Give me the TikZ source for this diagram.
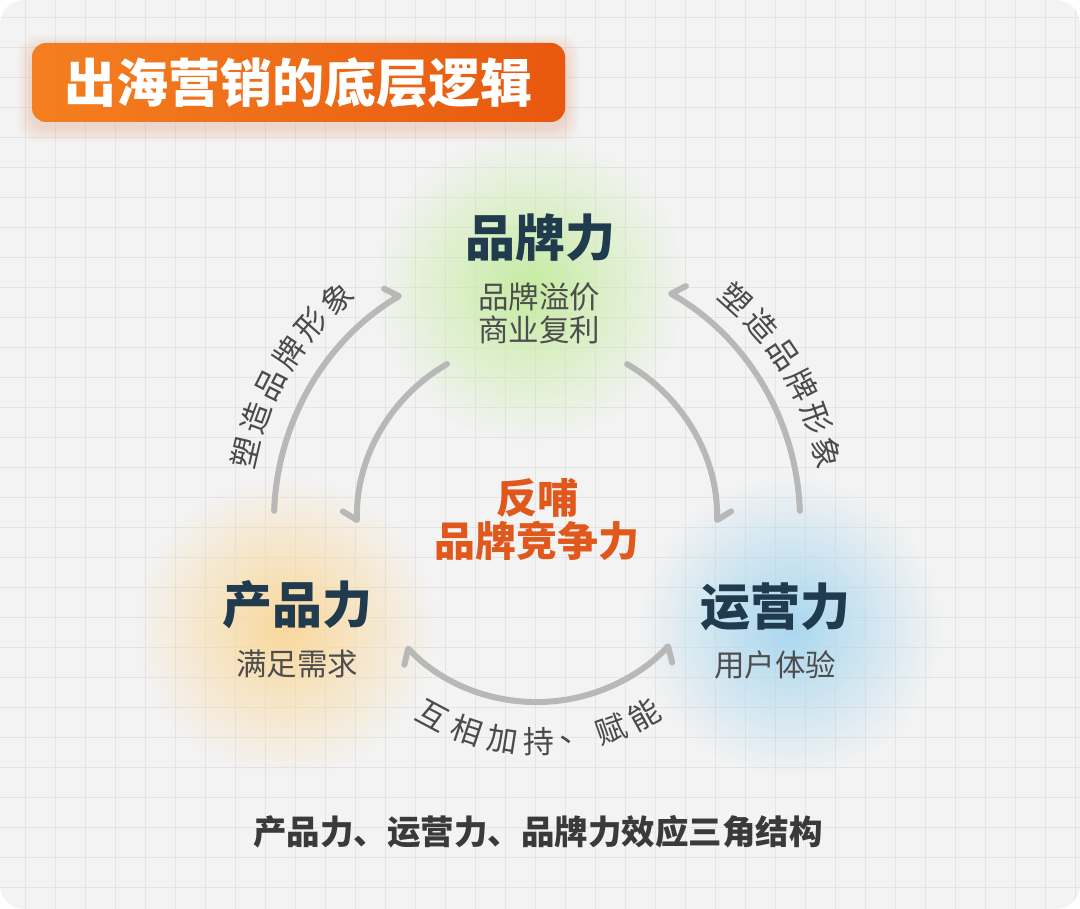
\documentclass[tikz,border=0pt]{standalone}
\usepackage{fontspec}
\setmainfont{Noto Sans CJK SC}
\usepackage{tikz}
\usetikzlibrary{arrows.meta}
\usetikzlibrary{fadings}
\tikzfading[name=glowfade,inner color=transparent!0,outer color=transparent!100]
\definecolor{bgcol}{HTML}{F3F3F3}
\definecolor{gridcol}{HTML}{E4E4E4}
\definecolor{navycol}{HTML}{1F3B4D}
\definecolor{subcol}{HTML}{4D4D4D}
\definecolor{corecol}{HTML}{E1581C}
\definecolor{capcol}{HTML}{3A3A3A}
\definecolor{arccol}{HTML}{B8B8B8}
\definecolor{labcol}{HTML}{4A4A4A}
\definecolor{glowgreen}{HTML}{C6ECA2}
\definecolor{gloworange}{HTML}{FAD89C}
\definecolor{glowblue}{HTML}{A9D7EF}
\definecolor{titleleft}{HTML}{F47F1F}
\definecolor{titleright}{HTML}{E8580F}
\tikzset{
	hb/.tip={Straight Barb[harpoon,length=9pt,width=28pt,round]},
	hbs/.tip={Straight Barb[harpoon,swap,length=9pt,width=28pt,round]},
	gridline/.style={draw=gridcol,line width=0.6pt},
	arcline/.style={draw=arccol,line width=6pt,line cap=round},
	titlebox/.style={minimum width=533pt,minimum height=79pt,rounded corners=14pt,left color=titleleft,right color=titleright,text=white,inner sep=0pt,font=\bfseries\fontsize{52}{56}\selectfont},
	power/.style={inner sep=0pt,text=navycol,font=\bfseries\fontsize{50}{56}\selectfont},
	sub/.style={inner sep=0pt,text=subcol,align=center,font=\fontsize{30.5}{33}\selectfont},
	core/.style={inner sep=0pt,text=corecol,align=center,font=\bfseries\fontsize{41}{43}\selectfont},
	arclabel/.style={inner sep=0pt,text=labcol,font=\fontsize{31}{33}\selectfont},
	caption/.style={inner sep=0pt,text=capcol,font=\bfseries\fontsize{33.5}{36}\selectfont}
}

\begin{document}
\begin{tikzpicture}[x=1pt,y=1pt]
			\useasboundingbox (0,0) rectangle (1080,909);
			\fill[white] (0,0) rectangle (1080,909);
			\fill[bgcol,rounded corners=24pt] (0,0) rectangle (1080,909);
%-----Grid paper-----
			\begin{scope}
				\clip[rounded corners=24pt] (0,0) rectangle (1080,909);
				\foreach \x in {25,55,...,1075}
					\draw[gridline] (\x,0) -- (\x,909);
				\foreach \y in {22,52,...,892}
					\draw[gridline] (0,\y) -- (1080,\y);
			\end{scope}
%-----Glows behind the three powers-----
			\fill[glowgreen,path fading=glowfade] (530,622) circle (155);
			\fill[gloworange,path fading=glowfade] (285,282) circle (150);
			\fill[glowblue,path fading=glowfade] (790,282) circle (150);
%-----Title-----
			\foreach \s in {2,4,...,14}
				\fill[titleright,opacity=0.025,rounded corners=18pt] (32-\s,781-\s) rectangle (565+\s,860+\s);
			\node[titlebox] (title) at (298.5,826.5) {出海营销的底层逻辑};
%-----The three powers-----
			\coordinate (c) at (537,389);
			\node[power] (brand) at (540,671) {品牌力};
			\node[sub] (brandsub) at (539,595.5) {品牌溢价\\商业复利};
			\node[power] (product) at (297,304) {产品力};
			\node[sub] (productsub) at (297,245) {满足需求};
			\node[power] (ops) at (775,302) {运营力};
			\node[sub] (opssub) at (775,244) {用户体验};
			\node[core] (core) at (c) {反哺\\品牌竞争力};
%-----Arcs round the centre-----
			\def \Rout {263}
			\def \Rin {180}
			\def \Rbot {182}
			\draw[arcline,-hb] ([shift={(178:\Rout)}]c) arc[start angle=178,end angle=121,radius=\Rout];
			\draw[arcline,-hbs] ([shift={(2:\Rout)}]c) arc[start angle=2,end angle=60,radius=\Rout];
			\draw[arcline,-hbs] ([shift={(120:\Rin)}]c) arc[start angle=120,end angle=181,radius=\Rin];
			\draw[arcline,-hb] ([shift={(60:\Rin)}]c) arc[start angle=60,end angle=-1,radius=\Rin];
			\draw[arcline,hb-hbs] ([shift={(224:\Rbot)}]c) arc[start angle=224,end angle=317,radius=\Rbot];
%-----Labels set along the arcs-----
			\foreach \ch [count=\i from 0] in {塑,造,品,牌,形,象}
				{
					\pgfmathsetmacro{\a}{167-7*\i}
					\node[arclabel,rotate=\a-90] (ll\i) at ([shift={(\a:299)}]c) {\ch};
					\pgfmathsetmacro{\b}{48-7*\i}
					\node[arclabel,rotate=\b-90] (rl\i) at ([shift={(\b:297)}]c) {\ch};
				}
			\foreach \ch [count=\i from 0] in {互,相,加,持,、,赋,能}
				{
					\pgfmathsetmacro{\a}{242+9.5*\i}
					\node[arclabel,rotate=\a+90] (bl\i) at ([shift={(\a:222)}]c) {\ch};
				}
			\node[caption] (cap) at (538,77) {产品力、运营力、品牌力效应三角结构};
		\end{tikzpicture}
\end{document}
